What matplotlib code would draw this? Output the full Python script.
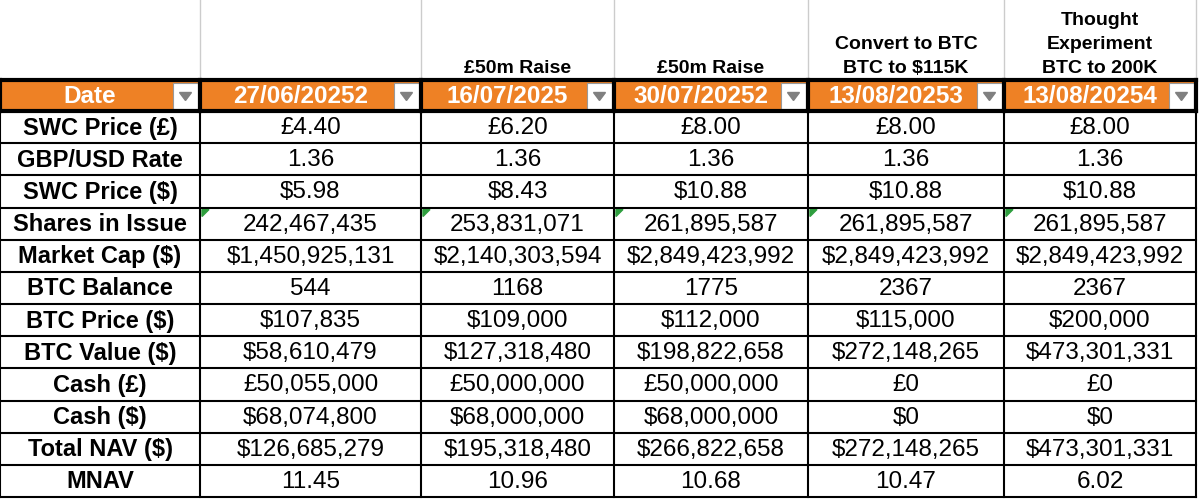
import matplotlib
matplotlib.use("Agg")
import matplotlib.pyplot as plt
from matplotlib.patches import Rectangle, Polygon

notes = ["", "£50m Raise", "£50m Raise", "Convert to BTC\nBTC to $115K", "Thought\nExperiment\nBTC to 200K"]
dates = ["27/06/20252", "16/07/2025", "30/07/20252", "13/08/20253", "13/08/20254"]
row_labels = ["SWC Price (£)", "GBP/USD Rate", "SWC Price ($)", "Shares in Issue", "Market Cap ($)",
              "BTC Balance", "BTC Price ($)", "BTC Value ($)", "Cash (£)", "Cash ($)", "Total NAV ($)", "MNAV"]
values = [
    ["£4.40", "£6.20", "£8.00", "£8.00", "£8.00"],
    ["1.36", "1.36", "1.36", "1.36", "1.36"],
    ["$5.98", "$8.43", "$10.88", "$10.88", "$10.88"],
    ["242,467,435", "253,831,071", "261,895,587", "261,895,587", "261,895,587"],
    ["$1,450,925,131", "$2,140,303,594", "$2,849,423,992", "$2,849,423,992", "$2,849,423,992"],
    ["544", "1168", "1775", "2367", "2367"],
    ["$107,835", "$109,000", "$112,000", "$115,000", "$200,000"],
    ["$58,610,479", "$127,318,480", "$198,822,658", "$272,148,265", "$473,301,331"],
    ["£50,055,000", "£50,000,000", "£50,000,000", "£0", "£0"],
    ["$68,074,800", "$68,000,000", "$68,000,000", "$0", "$0"],
    ["$126,685,279", "$195,318,480", "$266,822,658", "$272,148,265", "$473,301,331"],
    ["11.45", "10.96", "10.68", "10.47", "6.02"],
]

W, H = 1200, 501
plt.rcParams["font.family"] = "Liberation Sans"
fig = plt.figure(figsize=(12, 5.01), dpi=100)
ax = fig.add_axes([0, 0, 1, 1])
ax.set_xlim(0, W); ax.set_ylim(H, 0); ax.axis("off")

xs = [0, 200, 421, 614, 808, 1004, 1196]
hdr0, hdr1 = 80, 111
row_h = (498 - 112) / 12
ys = [hdr1 + i * row_h for i in range(13)]
orange = "#EE8125"

for x in xs[1:]:
    ax.plot([x, x], [0, hdr0], color="#cccccc", lw=1)
for i, n in enumerate(notes):
    if n:
        ax.text((xs[i+1] + xs[i+2]) / 2, hdr0 - 3, n, ha="center", va="bottom", fontsize=14,
                fontweight="bold", linespacing=1.55)
ax.add_patch(Rectangle((0, hdr0), xs[-1], hdr1 - hdr0, color=orange, zorder=1))
hdrs = ["Date"] + dates
for i, t in enumerate(hdrs):
    x0, x1 = xs[i], xs[i+1]
    ax.text(x0 + (x1 - x0 - 24) / 2 + 2, (hdr0 + hdr1) / 2 + 1, t, ha="center", va="center",
            color="white", fontsize=17.5, fontweight="bold", zorder=2)
    bx = x1 - 27
    ax.add_patch(Rectangle((bx, hdr0 + 3), 25, hdr1 - hdr0 - 5, facecolor="white",
                           edgecolor="#999999", lw=0.8, zorder=3))
    cx, cy = bx + 12.5, (hdr0 + hdr1) / 2 + 1
    ax.add_patch(Polygon([[cx - 6, cy - 4], [cx + 6, cy - 4], [cx, cy + 4]], color="#808080", zorder=4))
    if i + 1 < len(hdrs):
        ax.add_patch(Rectangle((x1, hdr0), 3, hdr1 - hdr0, color=orange, zorder=2.5))

for r, lab in enumerate(row_labels):
    cy = (ys[r] + ys[r+1]) / 2 + 1
    ax.text(xs[1] / 2, cy, lab, ha="center", va="center", fontsize=17, fontweight="bold")
    for c, v in enumerate(values[r]):
        ax.text((xs[c+1] + xs[c+2]) / 2, cy, v, ha="center", va="center", fontsize=17.5)
        if lab == "Shares in Issue":
            x0 = xs[c+1] + 2
            ax.add_patch(Polygon([[x0, ys[r] + 2], [x0 + 7, ys[r] + 2], [x0, ys[r] + 9]], color="#2e9e3e", zorder=4))

for y in ys:
    ax.plot([0, xs[-1]], [y, y], color="black", lw=1.5, zorder=5)
ax.plot([0, xs[-1]], [hdr0, hdr0], color="black", lw=3, zorder=5)
ax.plot([0, xs[-1]], [hdr1, hdr1], color="black", lw=3, zorder=5)
for x in xs:
    ax.plot([x, x], [hdr0, ys[-1]], color="black", lw=1.5, zorder=5)
    ax.plot([x, x], [hdr0, hdr1], color="black", lw=3, zorder=5)

fig.savefig("out.png", dpi=100)
